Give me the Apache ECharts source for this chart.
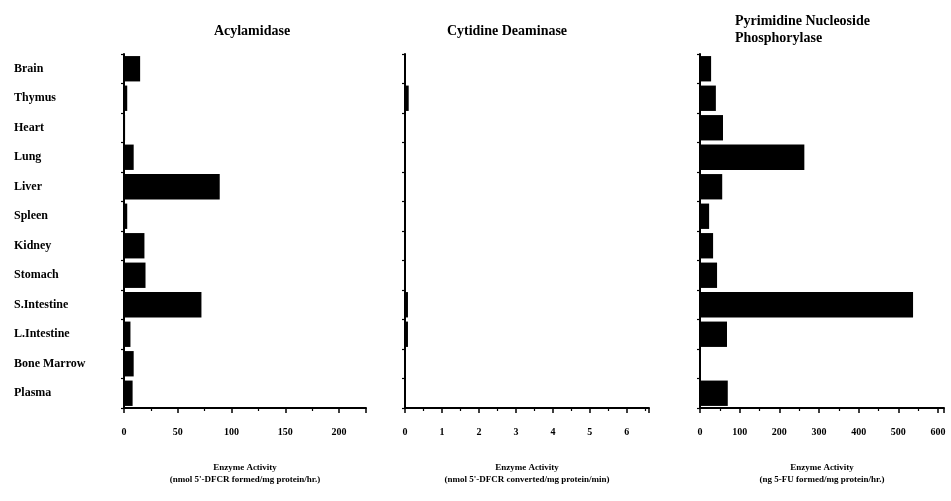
<!DOCTYPE html>
<html>
<head>
<meta charset="utf-8">
<script src="https://cdn.jsdelivr.net/npm/echarts@6/dist/echarts.min.js"></script>
<style>
  html, body { margin: 0; padding: 0; background: #fff; }
  #chart { width: 951px; height: 501px; }
</style>
</head>
<body>
<div id="chart"></div>
<script>
// Tissues, top to bottom
const tissues = ['Brain', 'Thymus', 'Heart', 'Lung', 'Liver', 'Spleen', 'Kidney',
  'Stomach', 'S.Intestine', 'L.Intestine', 'Bone Marrow', 'Plasma'];

// Acylamidase (nmol 5'-DFCR formed/mg protein/hr.)
const acylamidase = [15, 3, 1, 9, 89, 3, 19, 20, 72, 6, 9, 8];
// Cytidine deaminase (nmol 5'-DFCR converted/mg protein/min)
const cytidineDeaminase = [0.02, 0.1, 0.02, 0.02, 0.02, 0.02, 0.02, 0.02, 0.08, 0.08, 0.02, 0.02];
// Pyrimidine nucleoside phosphorylase (ng 5-FU formed/mg protein/hr.)
const pynPase = [28, 40, 58, 263, 56, 23, 33, 43, 537, 68, 0, 70];

const panelTitles = ['Acylamidase', 'Cytidine Deaminase', 'Pyrimidine Nucleoside\nPhosphorylase'];
const axisNames = [
  "Enzyme Activity\n(nmol 5'-DFCR formed/mg protein/hr.)",
  "Enzyme Activity\n(nmol 5'-DFCR converted/mg protein/min)",
  "Enzyme Activity\n(ng 5-FU formed/mg protein/hr.)"
];
const xMax = [225, 6.6, 615];
const xInterval = [50, 1, 100];

const FONT = '"Liberation Serif", "DejaVu Serif", serif';
const INK = '#000';

const grids = [
  { left: 124, width: 242, top: 54, height: 354 },
  { left: 405, width: 244, top: 54, height: 354 },
  { left: 700, width: 244, top: 54, height: 354 }
];

const seriesData = [acylamidase, cytidineDeaminase, pynPase];

const option = {
  backgroundColor: '#fff',
  animation: false,
  title: [
    { text: panelTitles[0], left: 247, top: 19, textAlign: 'center',
      textStyle: { fontFamily: FONT, fontWeight: 'bold', fontSize: 14, color: INK } },
    { text: panelTitles[1], left: 502, top: 19, textAlign: 'center',
      textStyle: { fontFamily: FONT, fontWeight: 'bold', fontSize: 14, color: INK } },
    { text: panelTitles[2], left: 730, top: 8,
      textStyle: { fontFamily: FONT, fontWeight: 'bold', fontSize: 14, color: INK, lineHeight: 17 } }
  ],
  grid: grids.map(g => Object.assign({ containLabel: false }, g)),
  xAxis: [0, 1, 2].map(i => ({
    type: 'value',
    gridIndex: i,
    min: 0,
    max: xMax[i],
    interval: xInterval[i],
    name: axisNames[i],
    nameLocation: 'middle',
    nameGap: 54,
    nameTextStyle: { fontFamily: FONT, fontWeight: 'bold', fontSize: 9, color: INK, lineHeight: 12 },
    axisLine: { show: true, lineStyle: { color: INK, width: 2 } },
    axisTick: { show: true, length: 5, lineStyle: { color: INK, width: 1.5 } },
    minorTick: { show: true, splitNumber: 2, length: 3, lineStyle: { color: INK, width: 1.2 } },
    splitLine: { show: false },
    axisLabel: {
      showMaxLabel: false,
      margin: 19,
      fontFamily: FONT, fontWeight: 'bold', fontSize: 10, color: INK
    }
  })),
  yAxis: [0, 1, 2].map(i => ({
    type: 'category',
    gridIndex: i,
    data: tissues,
    inverse: true,
    axisLine: { show: true, lineStyle: { color: INK, width: 2 } },
    axisTick: { show: true, length: 3, lineStyle: { color: INK, width: 1.2 } },
    splitLine: { show: false },
    axisLabel: i === 0 ? {
      show: true,
      align: 'left',
      margin: 110,
      padding: [3, 0, 0, 0],
      fontFamily: FONT, fontWeight: 'bold', fontSize: 12, color: INK
    } : { show: false }
  })),
  series: [0, 1, 2].map(i => ({
    type: 'bar',
    xAxisIndex: i,
    yAxisIndex: i,
    data: seriesData[i],
    barCategoryGap: '14%',
    itemStyle: { color: '#000' }
  }))
};

const chart = echarts.init(document.getElementById('chart'), null, { renderer: 'canvas' });
chart.setOption(option);
</script>
</body>
</html>
